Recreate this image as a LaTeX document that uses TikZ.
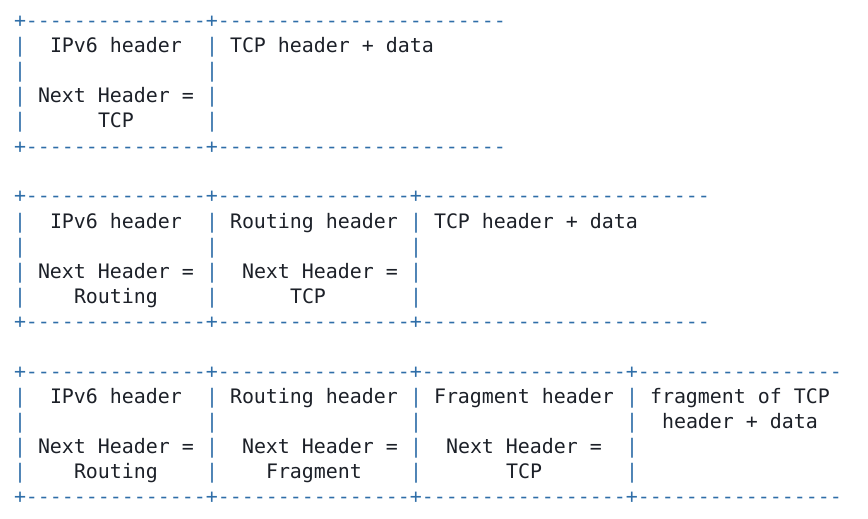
\documentclass[tikz,border=0pt]{standalone}
\usepackage{fontspec}
\setmonofont{DejaVu Sans Mono}
\usepackage{xcolor}
\usepackage{tikz}

\definecolor{rulecol}{RGB}{47,110,168}
\definecolor{textcol}{RGB}{28,32,40}

\tikzset{
  ascii/.style={inner sep=0pt, outer sep=0pt, anchor=base west,
    font=\ttfamily\fontsize{19.93}{25}\selectfont},
  rule/.style={ascii, text=rulecol},
  cell/.style={ascii, text=textcol}
}

\begin{document}
\begin{tikzpicture}[x=12pt, y=-25pt]
    \useasboundingbox (-1.1667,-1.12) rectangle (71.1667,19.64);
    % no extension header
    \node[rule] (topA) at (0,0) {+---------------+------------------------};
    \node[rule] (botA) at (0,5) {+---------------+------------------------};
    \foreach \r in {1,...,4}
        \foreach \c in {0,16}
            \node[rule] (barA\r\c) at (\c,\r) {|};
    \node[cell] (ipA) at (3,1) {IPv6 header};
    \node[cell] (tcpA) at (18,1) {TCP header + data};
    \node[cell] (nhA) at (2,3) {Next Header =};
    \node[cell] (valA) at (7,4) {TCP};

    % routing header
    \node[rule] (topB) at (0,7) {+---------------+----------------+------------------------};
    \node[rule] (botB) at (0,12) {+---------------+----------------+------------------------};
    \foreach \r in {8,...,11}
        \foreach \c in {0,16,33}
            \node[rule] (barB\r\c) at (\c,\r) {|};
    \node[cell] (ipB) at (3,8) {IPv6 header};
    \node[cell] (rtB) at (18,8) {Routing header};
    \node[cell] (tcpB) at (35,8) {TCP header + data};
    \node[cell] (nhB) at (2,10) {Next Header =};
    \node[cell] (nhrtB) at (19,10) {Next Header =};
    \node[cell] (valB) at (5,11) {Routing};
    \node[cell] (valrtB) at (23,11) {TCP};

    % routing and fragment headers
    \node[rule] (topC) at (0,14) {+---------------+----------------+-----------------+-----------------};
    \node[rule] (botC) at (0,19) {+---------------+----------------+-----------------+-----------------};
    \foreach \r in {15,...,18}
        \foreach \c in {0,16,33,51}
            \node[rule] (barC\r\c) at (\c,\r) {|};
    \node[cell] (ipC) at (3,15) {IPv6 header};
    \node[cell] (rtC) at (18,15) {Routing header};
    \node[cell] (frC) at (35,15) {Fragment header};
    \node[cell] (tcpC) at (53,15) {fragment of TCP};
    \node[cell] (tcpdC) at (54,16) {header + data};
    \node[cell] (nhC) at (2,17) {Next Header =};
    \node[cell] (nhrtC) at (19,17) {Next Header =};
    \node[cell] (nhfrC) at (36,17) {Next Header =};
    \node[cell] (valC) at (5,18) {Routing};
    \node[cell] (valrtC) at (21,18) {Fragment};
    \node[cell] (valfrC) at (41,18) {TCP};
\end{tikzpicture}
\end{document}
